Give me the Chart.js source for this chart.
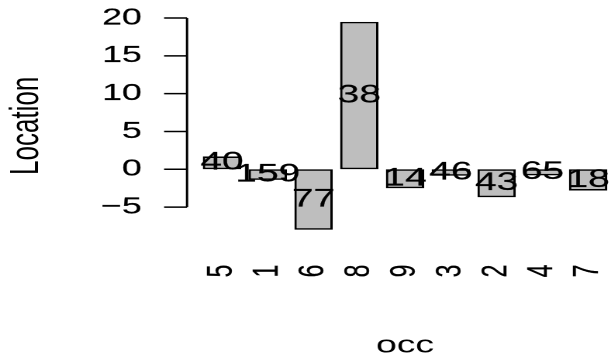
<!DOCTYPE html>
<html>
<head>
<meta charset="utf-8">
<script src="https://cdn.jsdelivr.net/npm/chart.js@4.4.1/dist/chart.umd.min.js"></script>
<style>
  html, body { margin: 0; padding: 0; background: #fff; overflow: hidden; }
  /* the reference is a stretched R plot: draw narrow, then widen */
  #wrap { width: 394px; height: 362px; transform: scaleX(1.5508); transform-origin: 0 0; }
</style>
</head>
<body>
<div id="wrap"><canvas id="c" width="394" height="362"></canvas></div>
<script>
const categories = ['5', '1', '6', '8', '9', '3', '2', '4', '7'];
const locations = [1.7, -1.4, -8.0, 19.5, -2.5, -0.85, -3.7, -0.8, -2.8];
const counts = [40, 159, 77, 38, 14, 46, 43, 65, 18];
const yTicks = [-5, 0, 5, 10, 15, 20];

const FONT = '"Liberation Sans", Arial, Helvetica, sans-serif';

// R style y axis: line only spans the ticks, sits a little left of the bars
const rAxis = {
  id: 'rAxis',
  afterDraw(chart) {
    const { ctx, chartArea, scales: { y } } = chart;
    const ax = chartArea.left - 7.8;
    ctx.save();
    ctx.strokeStyle = '#000';
    ctx.lineWidth = 1.5;
    ctx.beginPath();
    ctx.moveTo(ax, y.getPixelForValue(yTicks[0]));
    ctx.lineTo(ax, y.getPixelForValue(yTicks[yTicks.length - 1]));
    yTicks.forEach(v => {
      const py = y.getPixelForValue(v);
      ctx.moveTo(ax - 14.8, py);
      ctx.lineTo(ax, py);
    });
    ctx.stroke();
    ctx.restore();
  }
};

// counts written at the middle of each bar
const barLabels = {
  id: 'barLabels',
  afterDatasetsDraw(chart) {
    const { ctx, scales: { y } } = chart;
    const meta = chart.getDatasetMeta(0);
    ctx.save();
    ctx.font = '25px ' + FONT;
    ctx.fillStyle = '#000';
    ctx.strokeStyle = '#000';
    ctx.lineWidth = 0.2;
    ctx.textAlign = 'center';
    ctx.textBaseline = 'middle';
    meta.data.forEach((bar, i) => {
      const py = y.getPixelForValue(locations[i] / 2);
      ctx.fillText(String(counts[i]), bar.x, py);
      ctx.strokeText(String(counts[i]), bar.x, py);
    });
    ctx.restore();
  }
};

new Chart(document.getElementById('c'), {
  type: 'bar',
  data: {
    labels: categories,
    datasets: [{
      data: locations,
      backgroundColor: '#bebebe',
      borderColor: '#000',
      borderWidth: 1.6,
      borderSkipped: false,
      categoryPercentage: 1,
      barPercentage: 0.84,
    }]
  },
  options: {
    responsive: false, animation: false, devicePixelRatio: 2,
    layout: { padding: { top: 13.5, left: 0, right: 0, bottom: 0 } },
    plugins: { legend: { display: false }, tooltip: { enabled: false } },
    scales: {
      x: {
        grid: { display: false, drawTicks: false },
        border: { display: false },
        ticks: {
          color: '#000', font: { family: FONT, size: 23 }, minRotation: 90, maxRotation: 90, autoSkip: false, padding: 26.5,
          textStrokeColor: '#000', textStrokeWidth: 0.2,
        },
        afterFit: s => { s.height = 123.9; s.paddingLeft = 0; s.paddingRight = 0; },
        title: { display: true, text: 'occ', color: '#000', font: { family: FONT, size: 24 }, padding: { top: 0, bottom: 1.8 } },
      },
      y: {
        min: -9.1, max: 20.6,
        afterBuildTicks: s => { s.ticks = yTicks.map(v => ({ value: v })); },
        afterFit: s => { s.width = 128.4; s.paddingTop = 0; s.paddingBottom = 0; },
        grid: { display: false, drawTicks: false },
        border: { display: false },
        ticks: {
          color: '#000', font: { family: FONT, size: 23 }, padding: 37,
          textStrokeColor: '#000', textStrokeWidth: 0.2,
          callback: v => String(v).replace('-', '\u2212'),
        },
        title: { display: true, text: 'Location', color: '#000', font: { family: FONT, size: 26 }, padding: { top: 1.6, bottom: 0 } },
      }
    }
  },
  plugins: [rAxis, barLabels]
});
</script>
</body>
</html>
